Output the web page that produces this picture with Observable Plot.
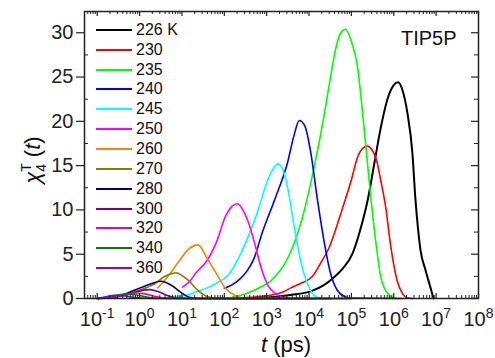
<!DOCTYPE html>
<html><head><meta charset="utf-8">
<script src="https://cdn.jsdelivr.net/npm/d3@7"></script>
<script src="https://cdn.jsdelivr.net/npm/@observablehq/plot@0.6"></script>
<style>
body{margin:0;background:#fff;}
#wrap{position:relative;width:495px;height:358px;font-family:"Liberation Sans",Arial,sans-serif;color:#111;}
#wrap svg{position:absolute;left:0;top:0;}
#legend{position:absolute;left:96px;top:20px;font-size:16px;line-height:1;}
.row{display:flex;align-items:center;height:19.85px;}
.sw{width:36px;height:2px;margin-right:4px;}
#model{position:absolute;left:401px;top:27px;font-size:20px;}
</style></head><body>
<div id="wrap"><div id="legend"></div><div id="model">TIP5P</div></div>
<script>
// ---- data (log10 t in ps, chi4) ----
const seriesLabels = ["226 K","230","235","240","245","250","260","270","280","300","320","340","360"];
const xTickExps = [-1,0,1,2,3,4,5,6,7,8];
const yTicks = [0,5,10,15,20,25,30];

const logT_226 = [3.0,3.57,4.04,4.35,4.59,4.8,5.02,5.2,5.38,5.55,5.69,5.85,6.0,6.1,6.2,6.32,6.44,6.51,6.57,6.63,6.75,6.85,6.94];
const chi_226  = [0.1,0.4,0.8,1.5,2.4,3.4,5.0,7.6,11.0,15.5,19.2,22.5,24.1,24.4,23.6,21.0,16.4,11.3,8.0,5.5,3.2,1.5,0];
const logT_230 = [2.5,3.0,3.41,3.57,3.8,4.08,4.25,4.47,4.79,5.0,5.14,5.28,5.38,5.45,5.61,5.69,5.81,5.92,6.0,6.08,6.2,6.3,6.45];
const chi_230  = [0.1,0.3,0.8,1.2,1.7,2.5,3.8,5.7,10.2,13.4,15.9,17.0,17.2,17.0,15.3,13.4,10.3,6.2,3.8,2.0,0.6,0.1,0];
const logT_235 = [2.2,2.35,2.6,2.86,3.1,3.22,3.41,3.57,3.8,4.12,4.35,4.5,4.62,4.75,4.86,5.0,5.14,5.3,5.45,5.57,5.69,5.85,6.0,6.1];
const chi_235  = [0.2,0.3,0.7,1.3,2.0,2.6,3.8,5.3,8.4,14.8,20.5,24.8,28.0,30.0,30.4,29.0,26.3,19.2,11.8,6.6,2.5,0.6,0.05,0];
const logT_240 = [2.0,2.2,2.39,2.55,2.7,2.9,3.2,3.49,3.65,3.77,3.9,4.04,4.2,4.35,4.51,4.67,4.85,5.0,6.2];
const chi_240  = [1.15,1.6,2.3,3.2,4.5,7.5,11.3,15.3,18.5,20.1,19.5,16.5,11.1,6.6,2.8,0.9,0.2,0.05,0];
const logT_245 = [0.7,1.05,1.33,1.6,1.8,2.12,2.35,2.59,2.82,2.94,3.1,3.27,3.4,3.49,3.65,3.8,3.96,4.16,4.3,5.0];
const chi_245  = [0.1,0.3,0.75,1.2,1.7,2.8,4.7,7.3,10.3,12.2,14.2,15.2,14.3,12.6,8.1,4.3,1.7,0.2,0,0];
const logT_250 = [1.02,1.21,1.33,1.55,1.8,2.04,2.18,2.31,2.45,2.59,2.74,2.88,3.04,3.22,3.4,3.6,5.0];
const chi_250  = [1.3,2.1,2.9,4.0,6.2,9.4,10.4,10.7,9.9,8.3,5.8,3.3,1.4,0.5,0.1,0,0];
const logT_260 = [0.43,0.66,0.9,1.14,1.38,1.6,1.75,1.86,2.0,2.16,2.35,2.6,4.3];
const chi_260  = [1.2,2.45,4.0,5.5,6.05,4.5,3.3,2.45,1.3,0.6,0.15,0,0];
const logT_270 = [-1.0,-0.5,-0.11,0.2,0.37,0.58,0.75,0.86,1.0,1.14,1.37,1.61,1.9,4.5];
const chi_270  = [0,0.2,0.76,1.3,1.7,2.45,2.8,2.9,2.6,2.1,0.95,0.2,0,0];
const logT_280 = [-1.0,-0.5,-0.11,0.29,0.5,0.75,1.0,1.2,1.5,4.5];
const chi_280  = [0,0.27,0.95,1.7,1.95,1.5,0.6,0.1,0,0];
const logT_300 = [-1.0,-0.6,-0.2,0.1,0.25,0.45,0.67,0.9,1.2,4.0];
const chi_300  = [0,0.15,0.6,0.95,1.0,0.75,0.3,0.05,0,0];
const logT_320 = [-1.0,-0.6,-0.3,-0.1,0.1,0.35,0.6,0.9,4.0];
const chi_320  = [0,0.2,0.5,0.62,0.55,0.25,0.05,0,0];
const logT_340 = [-1.0,-0.7,-0.4,-0.3,-0.1,0.2,0.5,0.8,4.0];
const chi_340  = [0,0.2,0.48,0.5,0.42,0.15,0.02,0,0];
const logT_360 = [-1.0,-0.8,-0.6,-0.4,-0.15,0.2,0.5,5.0];
const chi_360  = [0,0.2,0.35,0.33,0.15,0.02,0,0];

// ---- styles ----
const palette = ["#000000","#ff0000","#00ff00","#0000ff","#00ffff","#ff00ff","#ff8000","#808000","#000080","#800080","#ff0080","#008000","#8000ff"];

const logTs = [logT_226,logT_230,logT_235,logT_240,logT_245,logT_250,logT_260,logT_270,logT_280,logT_300,logT_320,logT_340,logT_360];
const chis  = [chi_226,chi_230,chi_235,chi_240,chi_245,chi_250,chi_260,chi_270,chi_280,chi_300,chi_320,chi_340,chi_360];
const rows = seriesLabels.flatMap((s,i)=>logTs[i].map((L,j)=>({series:s,t:Math.pow(10,L),chi:chis[i][j]})));

const W=495,H=358,mL=84,mR=17,mT=11,mB=60;
const pW=W-mL-mR, pH=H-mT-mB;
const xMajor = xTickExps.map(e=>Math.pow(10,e));
const xMinor = [];
for (let k=-2;k<=7;k++) for (let m=2;m<=9;m++){const v=m*Math.pow(10,k); if(v>=Math.pow(10,-1.3)&&v<=1e8) xMinor.push(v);}
const yMinor = yTicks.map(v=>v+2.5).filter(v=>v<32.4);
const ax="#222";

const chart = Plot.plot({
  width:W,height:H,marginLeft:mL,marginRight:mR,marginTop:mT,marginBottom:mB,
  style:{fontFamily:"'Liberation Sans', Arial, sans-serif",background:"transparent",color:ax},
  x:{type:"log",domain:[Math.pow(10,-1.3),1e8]},
  y:{domain:[0,32.4]},
  color:{domain:seriesLabels,range:palette},
  marks:[
    Plot.line(rows.filter(d=>d.series==="226 K"),{x:"t",y:"chi",stroke:"#000",strokeWidth:2,curve:"monotone-x"}),
    Plot.line(rows.filter(d=>d.series!=="226 K"),{x:"t",y:"chi",z:"series",stroke:"series",strokeWidth:1.6,curve:"monotone-x"}),
    Plot.tickX(xMajor,{x:d=>d,insetTop:pH-5,stroke:ax,strokeWidth:1.2}),
    Plot.tickX(xMajor,{x:d=>d,insetBottom:pH-5,stroke:ax,strokeWidth:1.2}),
    Plot.tickX(xMinor,{x:d=>d,insetTop:pH-3,stroke:ax,strokeWidth:1}),
    Plot.tickX(xMinor,{x:d=>d,insetBottom:pH-3,stroke:ax,strokeWidth:1}),
    Plot.tickY(yTicks,{y:d=>d,insetLeft:pW-7,stroke:ax,strokeWidth:1.2}),
    Plot.tickY(yMinor,{y:d=>d,insetLeft:pW-4,stroke:ax,strokeWidth:1}),
    Plot.tickY(yMinor,{y:d=>d,insetRight:pW-4,stroke:ax,strokeWidth:1}),
    Plot.axisY({ticks:yTicks,tickSize:8,tickPadding:3,fontSize:20,label:null,strokeWidth:1.2}),
    Plot.axisX({ticks:xMajor,tickSize:0,tickPadding:13,fontSize:20,label:null,tickFormat:d=>String(Math.round(Math.log10(d)))}),
    Plot.frame({stroke:ax,strokeWidth:1.5})
  ]
});
const wrap=document.getElementById("wrap");
wrap.insertBefore(chart,wrap.firstChild);

// superscript exponents on x tick labels
d3.select(chart).selectAll('g[aria-label="x-axis tick label"] text').each(function(){
  const e=this.textContent; const s=d3.select(this); s.text(null);
  s.append("tspan").text("10");
  s.append("tspan").attr("dy","-8").attr("font-size","14px").text(e);
});
// axis titles
const svg=d3.select(chart);
const yl=svg.append("text").attr("transform","translate(40,160) rotate(-90)").attr("text-anchor","middle")
  .attr("font-size","22px").attr("fill","#111").attr("font-family","'Liberation Sans', Arial, sans-serif");
yl.append("tspan").attr("font-style","italic").text("\u03c7");
yl.append("tspan").attr("font-size","14px").attr("dy","6").text("4");
yl.append("tspan").attr("font-size","14px").attr("dx","-8").attr("dy","-15").text("T");
yl.append("tspan").attr("dy","9").text(" (");
yl.append("tspan").attr("font-style","italic").text("t");
yl.append("tspan").text(")");
const xl=svg.append("text").attr("x",286).attr("y",352).attr("text-anchor","middle").attr("font-size","22px").attr("fill","#111").attr("font-family","'Liberation Sans', Arial, sans-serif");
xl.append("tspan").attr("font-style","italic").text("t");
xl.append("tspan").text(" (ps)");

// legend
const lg=d3.select("#legend");
seriesLabels.forEach((s,i)=>{
  const r=lg.append("div").attr("class","row");
  r.append("div").attr("class","sw").style("background",palette[i]);
  r.append("span").text(s);
});
</script>
</body></html>
